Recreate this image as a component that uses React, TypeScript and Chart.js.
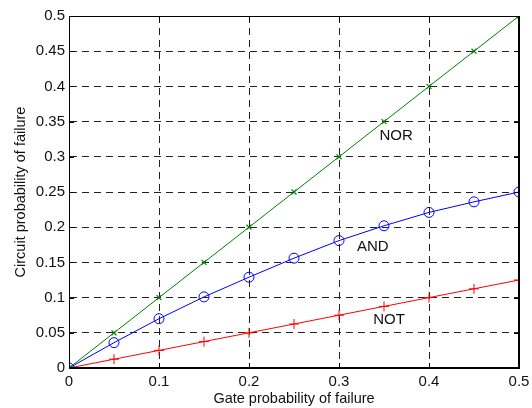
import React, { useEffect, useRef } from "react";
import { Chart, registerables } from "chart.js";

Chart.register(...registerables);

const gateP = [0, 0.05, 0.1, 0.15, 0.2, 0.25, 0.3, 0.35, 0.4, 0.45, 0.5];
const norValues = [0, 0.05, 0.1, 0.15, 0.2, 0.25, 0.3, 0.35, 0.4, 0.45, 0.5];
const andValues = [0, 0.036, 0.07, 0.101, 0.129, 0.156, 0.181, 0.202, 0.221, 0.236, 0.25];
const notValues = [0, 0.0125, 0.025, 0.0375, 0.05, 0.0625, 0.075, 0.0875, 0.1, 0.1125, 0.125];

const labelTexts = ["NOR", "AND", "NOT"];
const labelX = [0.345, 0.32, 0.338];
const labelY = [0.33, 0.172, 0.069];

const xTitle = "Gate probability of failure";
const yTitle = "Circuit probability of failure";

const FONT = "'Liberation Sans', Arial, Helvetica, sans-serif";

const toPoints = (ys: number[]) => gateP.map((x, i) => ({ x, y: ys[i] }));
const fmt = (v: number) => String(+Number(v).toFixed(2));

const framePlugin = {
  id: "frame",
  afterDraw(chart: any) {
    const { ctx, chartArea, scales } = chart;
    const { left, right, top, bottom } = chartArea;
    ctx.save();
    ctx.strokeStyle = "#000";
    ctx.setLineDash([]);
    // inward tick marks
    ctx.lineWidth = 1;
    const tl = 5;
    scales.x.ticks.forEach((t: any) => {
      const px = Math.round(scales.x.getPixelForValue(t.value)) + 0.5;
      ctx.beginPath();
      ctx.moveTo(px, bottom);
      ctx.lineTo(px, bottom - tl);
      ctx.moveTo(px, top);
      ctx.lineTo(px, top + tl);
      ctx.stroke();
    });
    scales.y.ticks.forEach((t: any) => {
      const py = Math.round(scales.y.getPixelForValue(t.value)) + 0.5;
      ctx.beginPath();
      ctx.moveTo(left, py);
      ctx.lineTo(left + tl, py);
      ctx.moveTo(right, py);
      ctx.lineTo(right - tl, py);
      ctx.stroke();
    });
    // frame
    ctx.lineWidth = 1;
    ctx.beginPath();
    ctx.moveTo(Math.round(left) + 0.5, Math.round(bottom));
    ctx.lineTo(Math.round(left) + 0.5, Math.round(top) + 0.5);
    ctx.lineTo(Math.round(right), Math.round(top) + 0.5);
    ctx.stroke();
    ctx.lineWidth = 2;
    ctx.beginPath();
    ctx.moveTo(Math.round(left), Math.round(bottom));
    ctx.lineTo(Math.round(right), Math.round(bottom));
    ctx.lineTo(Math.round(right), Math.round(top));
    ctx.stroke();
    // text annotations
    ctx.fillStyle = "#111";
    ctx.font = `15px ${FONT}`;
    ctx.textAlign = "left";
    ctx.textBaseline = "middle";
    labelTexts.forEach((txt, i) => {
      ctx.fillText(txt, scales.x.getPixelForValue(labelX[i]), scales.y.getPixelForValue(labelY[i]));
    });
    ctx.restore();
  },
};

export default function App() {
  const ref = useRef<HTMLCanvasElement | null>(null);
  useEffect(() => {
    if (!ref.current) return;
    const chart = new Chart(ref.current, {
      type: "line",
      data: {
        datasets: [
          {
            label: "NOR",
            data: toPoints(norValues),
            borderColor: "#008000",
            backgroundColor: "#008000",
            borderWidth: 1,
            pointStyle: "crossRot",
            pointRadius: 3.5,
            pointBorderWidth: 1.2,
            pointBorderColor: "#008000",
          },
          {
            label: "AND",
            data: toPoints(andValues),
            borderColor: "#0000ff",
            backgroundColor: "rgba(0,0,0,0)",
            borderWidth: 1,
            pointStyle: "circle",
            pointRadius: 5,
            pointBorderWidth: 1,
            pointBorderColor: "#0000ff",
          },
          {
            label: "NOT",
            data: toPoints(notValues),
            borderColor: "#ff0000",
            backgroundColor: "#ff0000",
            borderWidth: 1,
            pointStyle: "cross",
            pointRadius: 5,
            pointBorderWidth: 1,
            pointBorderColor: "#ff0000",
          },
        ],
      },
      options: {
        responsive: false,
        animation: false,
        events: [],
        layout: { padding: { top: 16, right: 13, left: 0, bottom: 0 } },
        plugins: { legend: { display: false }, tooltip: { enabled: false } },
        elements: { line: { tension: 0 } },
        scales: {
          x: {
            type: "linear",
            min: 0,
            max: 0.5,
            afterFit: (s: any) => {
              s.height = 40;
              s.paddingLeft = 0;
              s.paddingRight = 0;
            },
            ticks: {
              stepSize: 0.1,
              color: "#111",
              font: { family: FONT, size: 15 },
              padding: 5,
              maxRotation: 0,
              callback: (v: any) => fmt(v),
            },
            grid: {
              color: "#222",
              lineWidth: 1,
              drawTicks: false,
              tickLength: 0,
            },
            border: { display: true, color: "#000", width: 1, dash: [7, 5] },
            title: {
              display: true,
              text: xTitle,
              color: "#111",
              font: { family: FONT, size: 14.5 },
              padding: 0,
            },
          },
          y: {
            type: "linear",
            min: 0,
            max: 0.5,
            afterFit: (s: any) => {
              s.width = 69;
              s.paddingTop = 0;
              s.paddingBottom = 0;
            },
            ticks: {
              stepSize: 0.05,
              color: "#111",
              font: { family: FONT, size: 15 },
              padding: 4,
              callback: (v: any) => fmt(v),
            },
            grid: {
              color: "#222",
              lineWidth: 1,
              drawTicks: false,
              tickLength: 0,
            },
            border: { display: true, color: "#000", width: 1, dash: [7, 5] },
            title: {
              display: true,
              text: yTitle,
              color: "#111",
              font: { family: FONT, size: 14.5 },
              padding: { top: 12, bottom: 0 },
            },
          },
        },
      },
      plugins: [framePlugin],
    });
    return () => chart.destroy();
  }, []);
  return (
    <div style={{ position: "absolute", left: 0, top: 0, width: 532, height: 408, background: "#fff" }}>
      <canvas ref={ref} width={532} height={408} style={{ display: "block" }} />
    </div>
  );
}
